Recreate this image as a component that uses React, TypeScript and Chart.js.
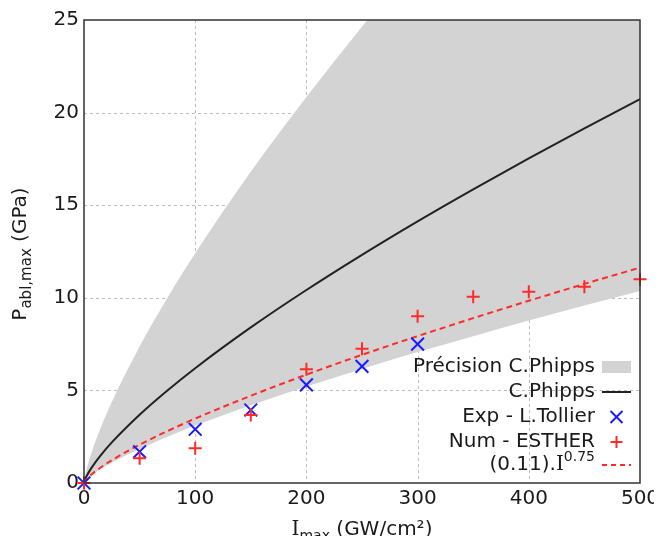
import React, { useEffect, useRef } from "react";
import { Chart, registerables } from "chart.js";

Chart.register(...registerables);

// Sampled intensities (GW/cm²) for the curves
const curveI = [0, 1, 2, 5, 10, 15, 25, 50, 75, 100, 150, 200, 250, 300, 350, 400, 450, 500];
// C.Phipps curve (GPa)
const phipps = [0, 0.196, 0.33, 0.655, 1.102, 1.494, 2.191, 3.685, 4.994, 6.198, 8.4, 10.42, 12.32, 14.13, 15.86, 17.53, 19.15, 20.73];
// Précision C.Phipps band (upper / lower edges)
const bandUpper = [0, 0.39, 0.66, 1.31, 2.2, 2.99, 4.38, 7.37, 9.99, 12.4, 16.8, 20.84, 24.64, 28.26, 31.72, 35.06, 38.3, 41.46];
const bandLower = [0, 0.1, 0.165, 0.33, 0.55, 0.75, 1.1, 1.84, 2.5, 3.1, 4.2, 5.21, 6.16, 7.07, 7.93, 8.77, 9.58, 10.37];
// (0.11).I^0.75 fit
const fitCurve = [0, 0.11, 0.185, 0.368, 0.619, 0.838, 1.23, 2.07, 2.8, 3.48, 4.71, 5.85, 6.92, 7.93, 8.9, 9.84, 10.75, 11.63];
// Exp - L.Tollier
const expI = [0, 50, 100, 150, 200, 250, 300];
const expP = [0, 1.69, 2.9, 3.94, 5.3, 6.3, 7.5];
// Num - ESTHER
const numI = [0, 50, 100, 150, 200, 250, 300, 350, 400, 450, 500];
const numP = [0, 1.33, 1.87, 3.67, 6.14, 7.25, 9.0, 10.06, 10.33, 10.6, 11.0];

const xTicks = [0, 100, 200, 300, 400, 500];
const yTicks = [0, 5, 10, 15, 20, 25];

const legendLabels = ["Précision C.Phipps", "C.Phipps", "Exp - L.Tollier", "Num - ESTHER", "(0.11).I^0.75"];

const SANS = "'DejaVu Sans', sans-serif";
const SERIF = "'DejaVu Serif', serif";
const TEXT = "#1a1a1a";
const GRAY = "#d3d3d3";
const BLUE = "#1a1aff";
const RED = "#ff2a2a";
const BLACK = "#222222";

const pts = (xs: number[], ys: number[]) => xs.map((x, i) => ({ x, y: ys[i] }));

type Piece = { t: string; font: string; dy: number };

function drawPieces(ctx: CanvasRenderingContext2D, pieces: Piece[], x: number, y: number, align: "left" | "right" | "center") {
  let total = 0;
  for (const p of pieces) {
    ctx.font = p.font;
    total += ctx.measureText(p.t).width;
  }
  let cx = align === "left" ? x : align === "right" ? x - total : x - total / 2;
  ctx.textAlign = "left";
  for (const p of pieces) {
    ctx.font = p.font;
    ctx.fillText(p.t, cx, y + p.dy);
    cx += ctx.measureText(p.t).width;
  }
}

const decorPlugin = {
  id: "decor",
  beforeDatasetsDraw(chart: any) {
    const { ctx, chartArea: a, scales } = chart;
    ctx.save();
    ctx.strokeStyle = "#bdbdbd";
    ctx.lineWidth = 1;
    ctx.setLineDash([3, 3]);
    ctx.beginPath();
    for (const v of xTicks.slice(1, -1)) {
      const px = Math.round(scales.x.getPixelForValue(v)) + 0.5;
      ctx.moveTo(px, a.top);
      ctx.lineTo(px, a.bottom);
    }
    for (const v of yTicks.slice(1, -1)) {
      const py = Math.round(scales.y.getPixelForValue(v)) + 0.5;
      ctx.moveTo(a.left, py);
      ctx.lineTo(a.right, py);
    }
    ctx.stroke();
    ctx.restore();
  },
  afterDatasetsDraw(chart: any) {
    const { ctx, chartArea: a } = chart;
    ctx.save();
    ctx.strokeStyle = "#333333";
    ctx.lineWidth = 1.5;
    ctx.strokeRect(a.left, a.top, a.right - a.left, a.bottom - a.top);
    ctx.restore();
  },
  afterDraw(chart: any) {
    const { ctx, chartArea: a } = chart;
    ctx.save();
    ctx.fillStyle = TEXT;
    ctx.textBaseline = "middle";

    // Legend
    const textRight = 587;
    const sx0 = 594;
    const sx1 = 623;
    const sxc = (sx0 + sx1) / 2;
    const rows = [359, 384, 409, 434, 457];
    const f20 = `20px ${SANS}`;
    for (let i = 0; i < 4; i++) {
      ctx.fillStyle = TEXT;
      drawPieces(ctx, [{ t: legendLabels[i], font: f20, dy: 0 }], textRight, rows[i], "right");
    }
    drawPieces(
      ctx,
      [
        { t: "(0.11).", font: f20, dy: 0 },
        { t: "I", font: `20px ${SERIF}`, dy: 0 },
        { t: "0.75", font: `14px ${SANS}`, dy: -8 },
      ],
      textRight,
      rows[4],
      "right"
    );
    // samples
    ctx.fillStyle = GRAY;
    ctx.fillRect(sx0, rows[0] - 6, sx1 - sx0, 12);
    ctx.strokeStyle = BLACK;
    ctx.lineWidth = 2;
    ctx.beginPath();
    ctx.moveTo(sx0, rows[1]);
    ctx.lineTo(sx1, rows[1]);
    ctx.stroke();
    ctx.strokeStyle = BLUE;
    ctx.beginPath();
    ctx.moveTo(sxc - 6, rows[2] - 6);
    ctx.lineTo(sxc + 6, rows[2] + 6);
    ctx.moveTo(sxc + 6, rows[2] - 6);
    ctx.lineTo(sxc - 6, rows[2] + 6);
    ctx.stroke();
    ctx.strokeStyle = RED;
    ctx.beginPath();
    ctx.moveTo(sxc - 6, rows[3]);
    ctx.lineTo(sxc + 6, rows[3]);
    ctx.moveTo(sxc, rows[3] - 6);
    ctx.lineTo(sxc, rows[3] + 6);
    ctx.stroke();
    ctx.setLineDash([5, 4]);
    ctx.beginPath();
    ctx.moveTo(sx0, rows[4]);
    ctx.lineTo(sx1, rows[4]);
    ctx.stroke();
    ctx.setLineDash([]);

    // Axis titles
    ctx.fillStyle = TEXT;
    drawPieces(
      ctx,
      [
        { t: "I", font: `20px ${SERIF}`, dy: 0 },
        { t: "max", font: `14px ${SANS}`, dy: 6 },
        { t: " (GW/cm²)", font: f20, dy: 0 },
      ],
      (a.left + a.right) / 2,
      522,
      "center"
    );
    ctx.translate(13, 246);
    ctx.rotate(-Math.PI / 2);
    drawPieces(
      ctx,
      [
        { t: "P", font: f20, dy: 0 },
        { t: "abl,max", font: `15px ${SANS}`, dy: 6 },
        { t: " (GPa)", font: f20, dy: 0 },
      ],
      0,
      0,
      "center"
    );
    ctx.restore();
  },
};

export default function App() {
  const ref = useRef<HTMLCanvasElement | null>(null);
  useEffect(() => {
    if (!ref.current) return;
    const chart = new Chart(ref.current, {
      type: "scatter",
      data: {
        datasets: [
          {
            label: "lower",
            data: pts(curveI, bandLower),
            showLine: true,
            borderWidth: 0,
            pointRadius: 0,
            fill: false,
            cubicInterpolationMode: "monotone",
            order: 10,
          },
          {
            label: legendLabels[0],
            data: pts(curveI, bandUpper),
            showLine: true,
            borderWidth: 0,
            pointRadius: 0,
            backgroundColor: GRAY,
            fill: { target: 0 },
            cubicInterpolationMode: "monotone",
            order: 9,
          },
          {
            label: legendLabels[1],
            data: pts(curveI, phipps),
            showLine: true,
            borderColor: BLACK,
            borderWidth: 2,
            pointRadius: 0,
            fill: false,
            cubicInterpolationMode: "monotone",
            order: 5,
          },
          {
            label: legendLabels[4],
            data: pts(curveI, fitCurve),
            showLine: true,
            borderColor: RED,
            borderWidth: 2,
            borderDash: [6, 4],
            pointRadius: 0,
            fill: false,
            cubicInterpolationMode: "monotone",
            order: 4,
          },
          {
            label: legendLabels[2],
            data: pts(expI, expP),
            showLine: false,
            pointStyle: "crossRot",
            pointRadius: 9,
            borderColor: BLUE,
            backgroundColor: BLUE,
            pointBorderWidth: 2,
            clip: false,
            order: 2,
          },
          {
            label: legendLabels[3],
            data: pts(numI, numP),
            showLine: false,
            pointStyle: "cross",
            pointRadius: 6.5,
            borderColor: RED,
            backgroundColor: RED,
            pointBorderWidth: 2,
            clip: false,
            order: 1,
          },
        ],
      } as any,
      options: {
        animation: false,
        responsive: false,
        events: [],
        layout: { padding: { top: 12, right: 14, left: 0, bottom: 0 } },
        plugins: { legend: { display: false }, tooltip: { enabled: false } },
        scales: {
          x: {
            type: "linear",
            min: 0,
            max: 500,
            afterBuildTicks: (s: any) => {
              s.ticks = xTicks.map((v) => ({ value: v }));
            },
            afterFit: (s: any) => {
              s.height = 53;
              s.paddingLeft = 0;
              s.paddingRight = 0;
            },
            ticks: { color: TEXT, font: { family: SANS, size: 20 }, padding: 4, maxRotation: 0 },
            grid: { display: false, drawTicks: false },
            border: { display: false },
          },
          y: {
            type: "linear",
            min: 0,
            max: 25,
            afterBuildTicks: (s: any) => {
              s.ticks = yTicks.map((v) => ({ value: v }));
            },
            afterFit: (s: any) => {
              s.width = 76;
              s.paddingTop = 0;
              s.paddingBottom = 0;
            },
            ticks: { color: TEXT, font: { family: SANS, size: 20 }, padding: 5 },
            grid: { display: false, drawTicks: false },
            border: { display: false },
          },
        },
      } as any,
      plugins: [decorPlugin],
    });
    return () => chart.destroy();
  }, []);
  return (
    <div style={{ width: 646, height: 528 }}>
      <canvas ref={ref} width={646} height={528} style={{ display: "block" }} />
    </div>
  );
}
